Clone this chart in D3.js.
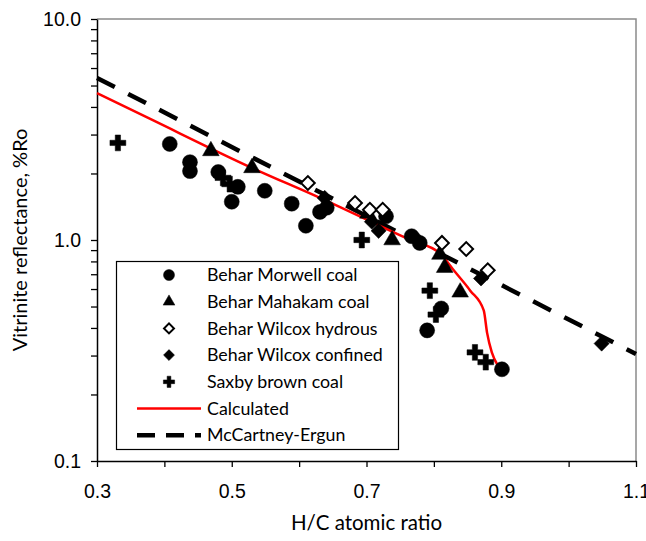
<!DOCTYPE html>
<html>
<head>
<meta charset="utf-8">
<script src="https://cdn.jsdelivr.net/npm/d3@7"></script>
<style>
  body { margin: 0; background: #fff; }
  svg { font-family: Lato, "Open Sans", sans-serif; }
  .tick text { font-size: 19.5px; fill: #000; }
</style>
</head>
<body>
<div id="chart"></div>
<script>
// data (H/C ratio, %Ro)
var morwellHC = [0.408, 0.438, 0.438, 0.480, 0.509, 0.500, 0.549, 0.589, 0.610, 0.631, 0.641, 0.729, 0.767, 0.779, 0.811, 0.790, 0.901];
var morwellRo = [2.72, 2.25, 2.05, 2.03, 1.74, 1.49, 1.67, 1.46, 1.16, 1.34, 1.40, 1.28, 1.04, 0.97, 0.49, 0.39, 0.26];

var mahakamHC = [0.469, 0.530, 0.702, 0.738, 0.809, 0.816, 0.839];
var mahakamRo = [2.53, 2.12, 1.32, 1.00, 0.86, 0.75, 0.58];

var hydrousHC = [0.613, 0.683, 0.705, 0.724, 0.812, 0.848, 0.880];
var hydrousRo = [1.81, 1.47, 1.37, 1.37, 0.97, 0.91, 0.73];

var confinedHC = [0.638, 0.708, 0.718, 0.776, 0.870, 1.049];
var confinedRo = [1.55, 1.21, 1.10, 1.00, 0.67, 0.34];

var saxbyHC = [0.331, 0.487, 0.497, 0.693, 0.794, 0.803, 0.861, 0.877];
var saxbyRo = [2.75, 1.91, 1.79, 1.00, 0.59, 0.46, 0.31, 0.28];

var calcHC = [0.300, 0.379, 0.530, 0.631, 0.765, 0.809, 0.831, 0.854, 0.874, 0.879, 0.886, 0.895];
var calcRo = [4.62, 3.53, 2.12, 1.55, 1.00, 0.87, 0.72, 0.59, 0.48, 0.38, 0.31, 0.27];

var mcHC = [0.3, 1.1];
var mcRo = [5.41, 0.305];

var xTickLabels = [0.3, 0.5, 0.7, 0.9, 1.1];
var yTickLabels = [0.1, 1, 10];

var legendNames = ["Behar Morwell coal", "Behar Mahakam coal", "Behar Wilcox hydrous",
  "Behar Wilcox confined", "Saxby brown coal", "Calculated", "McCartney-Ergun"];

var svgWidth = 646;
var svgHeight = 541;
var margin = { top: 19, right: 10, bottom: 80, left: 97 };
var width = svgWidth - margin.left - margin.right;
var height = svgHeight - margin.top - margin.bottom;

var svg = d3.select("#chart")
  .append("svg")
  .attr("width", svgWidth)
  .attr("height", svgHeight);

var chartGroup = svg.append("g")
  .attr("transform", `translate(${margin.left}, ${margin.top})`);

var xScale = d3.scaleLinear().domain([0.3, 1.1]).range([0, width]);
var yScale = d3.scaleLog().domain([0.1, 10]).range([height, 0]);

// frame (top/right in grey)
chartGroup.append("path")
  .attr("d", `M0,0H${width}V${height}`)
  .attr("fill", "none")
  .attr("stroke", "#8a8a8a")
  .attr("stroke-width", 1.5);

// axes
var xTicks = d3.range(3, 12).map(d => d / 10);
var bottomAxis = d3.axisBottom(xScale)
  .tickValues(xTicks)
  .tickSize(6)
  .tickSizeOuter(0)
  .tickFormat(d => xTickLabels.some(v => Math.abs(v - d) < 1e-9) ? d3.format(".1f")(d) : "");

var yTicks = [];
[0.1, 1].forEach(function(dec) {
  for (var i = 1; i < 10; i++) yTicks.push(dec * i);
});
yTicks.push(10);
var leftAxis = d3.axisLeft(yScale)
  .tickValues(yTicks)
  .tickSize(6)
  .tickSizeOuter(0)
  .tickFormat(d => yTickLabels.some(v => Math.abs(v - d) < 1e-9) ? d3.format(".1f")(d) : "");

var gx = chartGroup.append("g")
  .attr("transform", `translate(0, ${height})`)
  .call(bottomAxis);
gx.selectAll("text").attr("dy", "1.45em");

var gy = chartGroup.append("g")
  .call(leftAxis);
gy.selectAll("text").attr("x", -16).attr("dy", "0.35em");

[gx, gy].forEach(function(g) {
  g.select(".domain").attr("stroke", "#000").attr("stroke-width", 1.5);
  g.selectAll(".tick line").attr("stroke", "#000").attr("stroke-width", 1.3);
});

// lines
var line = d3.line()
  .x(d => xScale(d[0]))
  .y(d => yScale(d[1]));

chartGroup.append("path")
  .datum(mcHC.map((d, i) => [d, mcRo[i]]))
  .attr("d", line)
  .attr("fill", "none")
  .attr("stroke", "#000")
  .attr("stroke-width", 4.5)
  .attr("stroke-dasharray", "20,15");

chartGroup.append("path")
  .datum(calcHC.map((d, i) => [d, calcRo[i]]))
  .attr("d", line.curve(d3.curveMonotoneX))
  .attr("fill", "none")
  .attr("stroke", "#ff0000")
  .attr("stroke-width", 2.5);

// markers
var series = [
  { hc: morwellHC, ro: morwellRo, type: d3.symbolCircle, size: 177, rot: 0, fill: "#000" },
  { hc: mahakamHC, ro: mahakamRo, type: d3.symbolTriangle, size: 120, rot: 0, fill: "#000" },
  { hc: hydrousHC, ro: hydrousRo, type: d3.symbolSquare, size: 95, rot: 45, fill: "#fff" },
  { hc: confinedHC, ro: confinedRo, type: d3.symbolSquare, size: 115, rot: 45, fill: "#000" },
  { hc: saxbyHC, ro: saxbyRo, type: d3.symbolCross, size: 140, rot: 0, fill: "#000" }
];

series.forEach(function(s) {
  chartGroup.selectAll(null)
    .data(s.hc.map((d, i) => [d, s.ro[i]]))
    .enter()
    .append("path")
    .attr("d", d3.symbol().type(s.type).size(s.size))
    .attr("transform", d => `translate(${xScale(d[0])}, ${yScale(d[1])}) rotate(${s.rot})`)
    .attr("fill", s.fill)
    .attr("stroke", "#000")
    .attr("stroke-width", s.fill === "#fff" ? 2 : 0.5);
});

// legend
var legend = svg.append("g").attr("transform", "translate(116, 261)");
legend.append("rect")
  .attr("x", 0.5).attr("y", 0.5)
  .attr("width", 282).attr("height", 188)
  .attr("fill", "#fff")
  .attr("stroke", "#000")
  .attr("stroke-width", 1.2);

var legendSizes = [95, 60, 50, 60, 70];
legendNames.forEach(function(name, i) {
  var ly = 14 + i * 26.7;
  if (i < 5) {
    var s = series[i];
    legend.append("path")
      .attr("d", d3.symbol().type(s.type).size(legendSizes[i]))
      .attr("transform", `translate(53, ${ly}) rotate(${s.rot})`)
      .attr("fill", s.fill)
      .attr("stroke", "#000")
      .attr("stroke-width", s.fill === "#fff" ? 2 : 0.5);
  } else if (i === 5) {
    legend.append("line")
      .attr("x1", 21).attr("x2", 85).attr("y1", ly).attr("y2", ly)
      .attr("stroke", "#ff0000").attr("stroke-width", 2.5);
  } else {
    legend.append("line")
      .attr("x1", 21).attr("x2", 85).attr("y1", ly).attr("y2", ly)
      .attr("stroke", "#000").attr("stroke-width", 4.5)
      .attr("stroke-dasharray", "18,11");
  }
  legend.append("text")
    .attr("x", 91)
    .attr("y", ly)
    .attr("dy", "0.35em")
    .attr("font-size", 17.8)
    .text(name);
});

// axis titles
svg.append("text")
  .attr("x", margin.left + width / 2)
  .attr("y", 530)
  .attr("text-anchor", "middle")
  .attr("font-size", 20.5)
  .text("H/C atomic ratio");

svg.append("text")
  .attr("transform", `translate(27, ${margin.top + height / 2}) rotate(-90)`)
  .attr("text-anchor", "middle")
  .attr("font-size", 20)
  .text("Vitrinite reflectance, %Ro");
</script>
</body>
</html>
